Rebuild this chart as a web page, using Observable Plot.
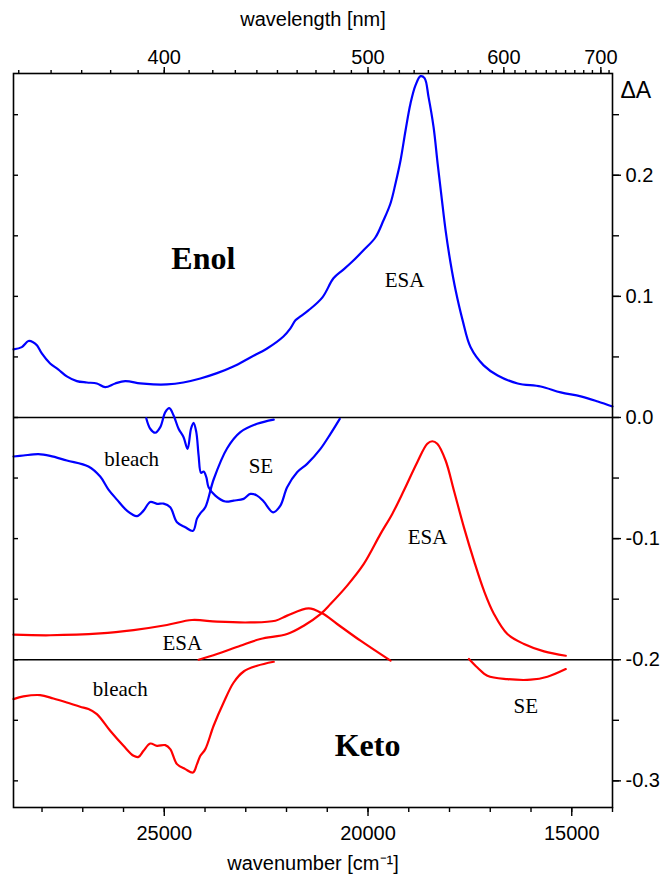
<!DOCTYPE html>
<html><head><meta charset="utf-8">
<script src="https://cdn.jsdelivr.net/npm/d3@7"></script>
<script src="https://cdn.jsdelivr.net/npm/@observablehq/plot@0.6"></script>
<style>body{margin:0;background:#fff}</style>
</head><body><div id="chart"></div>
<script>
// [wavenumber cm^-1, ΔA]
const enolESA = [[28700,0.0562],[28496,0.0581],[28334,0.0631],[28219,0.0622],[28120,0.0595],[28005,0.0529],[27801,0.0446],[27604,0.0397],[27391,0.0339],[27145,0.0300],[26899,0.0289],[26654,0.0281],[26450,0.0250],[26204,0.0281],[25958,0.0300],[25590,0.0281],[25270,0.0273],[24934,0.0273],[24533,0.0289],[24115,0.0322],[23705,0.0366],[23305,0.0421],[22887,0.0496],[22477,0.0570],[22076,0.0669],[21904,0.0736],[21781,0.0802],[21658,0.0835],[21462,0.0884],[21118,0.0992],[20848,0.1149],[20627,0.1215],[20430,0.1273],[20111,0.1380],[19816,0.1488],[19619,0.1628],[19447,0.1769],[19324,0.1934],[19201,0.2124],[19078,0.2372],[18956,0.2595],[18833,0.2744],[18710,0.2818],[18612,0.2802],[18514,0.2645],[18391,0.2397],[18292,0.2099],[18194,0.1818],[18096,0.1545],[17973,0.1273],[17850,0.1050],[17678,0.0802],[17482,0.0579],[17162,0.0430],[16818,0.0347],[16327,0.0281],[15762,0.0256],[15270,0.0207],[14779,0.0174],[14361,0.0132],[14000,0.0091]];
const enolBleach = [[28700,-0.0322],[28457,-0.0314],[28088,-0.0303],[27801,-0.0317],[27391,-0.0355],[26860,-0.0405],[26572,-0.0488],[26369,-0.0595],[26162,-0.0678],[25916,-0.0769],[25671,-0.0814],[25509,-0.0769],[25344,-0.0698],[25179,-0.0713],[25017,-0.0711],[24853,-0.0741],[24688,-0.0865],[24484,-0.0907],[24295,-0.0936],[24197,-0.0835],[24115,-0.0791],[23993,-0.0741],[23789,-0.0512],[23460,-0.0256],[23133,-0.0121],[22722,-0.0052],[22314,-0.0017]];
const enolSE = [[25442,-0.0006],[25344,-0.0093],[25221,-0.0126],[25098,-0.0080],[24975,0.0044],[24877,0.0077],[24771,0.0017],[24649,-0.0093],[24526,-0.0163],[24428,-0.0259],[24344,-0.0093],[24280,-0.0044],[24214,-0.0121],[24157,-0.0314],[24098,-0.0457],[24034,-0.0446],[23968,-0.0493],[23912,-0.0576],[23747,-0.0645],[23501,-0.0694],[23297,-0.0686],[23052,-0.0672],[22887,-0.0631],[22722,-0.0645],[22560,-0.0694],[22329,-0.0783],[22150,-0.0727],[21985,-0.0576],[21740,-0.0452],[21494,-0.0383],[21167,-0.0259],[20921,-0.0135],[20693,-0.0011]];
const ketoESAlow = [[28700,-0.1793],[27801,-0.1798],[26572,-0.1783],[25754,-0.1755],[24934,-0.1713],[24319,-0.1672],[23705,-0.1686],[22887,-0.1692],[22273,-0.1678],[21985,-0.1636],[21455,-0.1576],[21125,-0.1617],[20757,-0.1705],[20184,-0.1843],[19447,-0.2008]];
const ketoESApeak = [[24157,-0.2000],[23705,-0.1953],[23133,-0.1884],[22641,-0.1829],[21985,-0.1788],[21577,-0.1719],[21167,-0.1623],[20921,-0.1540],[20511,-0.1388],[20103,-0.1209],[19693,-0.0961],[19405,-0.0796],[19120,-0.0603],[18791,-0.0369],[18545,-0.0217],[18423,-0.0196],[18300,-0.0217],[18096,-0.0355],[17892,-0.0603],[17646,-0.0907],[17400,-0.1182],[17155,-0.1430],[16909,-0.1622],[16580,-0.1788],[16172,-0.1870],[15680,-0.1931],[15147,-0.1967]];
const ketoBleach = [[28700,-0.2325],[28457,-0.2303],[28047,-0.2292],[27720,-0.2320],[27391,-0.2353],[27064,-0.2388],[26860,-0.2407],[26654,-0.2449],[26327,-0.2587],[26000,-0.2711],[25754,-0.2793],[25631,-0.2802],[25509,-0.2752],[25344,-0.2692],[25179,-0.2711],[24975,-0.2705],[24853,-0.2738],[24688,-0.2862],[24484,-0.2903],[24295,-0.2931],[24197,-0.2862],[24115,-0.2793],[23993,-0.2738],[23789,-0.2545],[23543,-0.2353],[23297,-0.2188],[23052,-0.2097],[22722,-0.2050],[22314,-0.2017]];
const ketoSE = [[17523,-0.1994],[17317,-0.2064],[17071,-0.2132],[16580,-0.2160],[16007,-0.2165],[15597,-0.2140],[15147,-0.2077]];

const baselines = [0, -0.2];
const wnMajorTicks = [25000, 20000, 15000];
const wnMinorTicks = d3.range(14000, 28701, 1000);
const nmMajorTicks = [400, 500, 600, 700];
const nmMinorTicks = d3.range(350, 711, 10);
const dAMajorTicks = [-0.3, -0.2, -0.1, 0, 0.1, 0.2];
const dAMinorTicks = [-0.3, -0.25, -0.2, -0.15, -0.1, -0.05, 0, 0.05, 0.1, 0.15, 0.2, 0.25];

const bigLabels = ["Enol", "Keto"];
const bigLabelWn = [24042, 20012];
const bigLabelDA = [0.1223, -0.2793];
const bandLabels = ["ESA", "ESA", "ESA", "bleach", "SE", "bleach", "SE"];
const bandLabelWn = [19103, 18538, 24558, 25799, 22629, 26081, 16130];
const bandLabelDA = [0.1074, -0.1041, -0.1917, -0.0397, -0.0455, -0.2298, -0.2438];

const BLUE = "#0000ff", RED = "#ff0000";
const lineOpts = c => ({x: d => d[0], y: d => d[1], stroke: c, strokeWidth: 2.2, curve: "catmull-rom"});
const W = 664, H = 877, ML = 13, MR = 52, MT = 73, MB = 70;
const innerW = W - ML - MR;
const noText = {fill: "none", label: null, strokeWidth: 1.4};

const chart = Plot.plot({
  width: W, height: H,
  marginLeft: ML, marginRight: MR, marginTop: MT, marginBottom: MB,
  style: {fontFamily: "'Liberation Sans', Arial, sans-serif", fontSize: "20px", color: "#000", background: "#fff"},
  x: {domain: [28700, 14000]},
  y: {domain: [-0.322, 0.284]},
  marks: [
    Plot.ruleY(baselines, {stroke: "#000", strokeWidth: 1.6}),
    Plot.line(enolESA, lineOpts(BLUE)),
    Plot.line(enolBleach, lineOpts(BLUE)),
    Plot.line(enolSE, lineOpts(BLUE)),
    Plot.line(ketoESAlow, lineOpts(RED)),
    Plot.line(ketoESApeak, lineOpts(RED)),
    Plot.line(ketoBleach, lineOpts(RED)),
    Plot.line(ketoSE, lineOpts(RED)),
    Plot.frame({stroke: "#000", strokeWidth: 1.6}),
    // bottom axis (wavenumber)
    Plot.axisX({anchor: "bottom", ticks: wnMinorTicks, tickSize: 5, ...noText}),
    Plot.axisX({anchor: "bottom", ticks: wnMajorTicks, tickSize: 9, tickPadding: 9, tickFormat: d => String(d), strokeWidth: 1.4, label: null}),
    // top axis (wavelength)
    Plot.axisX({anchor: "top", ticks: nmMinorTicks.map(n => 1e7 / n), tickSize: 4, ...noText}),
    Plot.axisX({anchor: "top", ticks: nmMajorTicks.map(n => 1e7 / n), tickSize: 7, tickPadding: 3, tickFormat: d => String(Math.round(1e7 / d)), strokeWidth: 1.4, label: null}),
    // right axis
    Plot.axisY({anchor: "right", ticks: dAMinorTicks, tickSize: 6, ...noText}),
    Plot.axisY({anchor: "right", ticks: dAMajorTicks, tickSize: 8, tickPadding: 5, tickFormat: d => d.toFixed(1), strokeWidth: 1.4, label: null}),
    // left inward ticks
    Plot.tickY(dAMinorTicks, {y: d => d, insetRight: innerW - 5, stroke: "#000", strokeWidth: 1.4}),
    // axis titles
    Plot.text(["wavenumber [cm⁻¹]"], {frameAnchor: "bottom", dy: 62, lineAnchor: "bottom", fontSize: 20}),
    Plot.text(["wavelength [nm]"], {frameAnchor: "top", dy: -48, lineAnchor: "bottom", fontSize: 20}),
    Plot.text(["ΔA"], {frameAnchor: "top-right", dx: 8, dy: 24, textAnchor: "start", lineAnchor: "bottom", fontSize: 23}),
    // annotations
    Plot.text(bigLabels, {x: (d, i) => bigLabelWn[i], y: (d, i) => bigLabelDA[i], text: d => d, lineAnchor: "bottom", fontFamily: "'Liberation Serif', 'Times New Roman', serif", fontWeight: "bold", fontSize: 32}),
    Plot.text(bandLabels, {x: (d, i) => bandLabelWn[i], y: (d, i) => bandLabelDA[i], text: d => d, lineAnchor: "bottom", fontFamily: "'Liberation Serif', 'Times New Roman', serif", fontSize: 21})
  ]
});
document.getElementById("chart").appendChild(chart);
</script>
</body></html>
